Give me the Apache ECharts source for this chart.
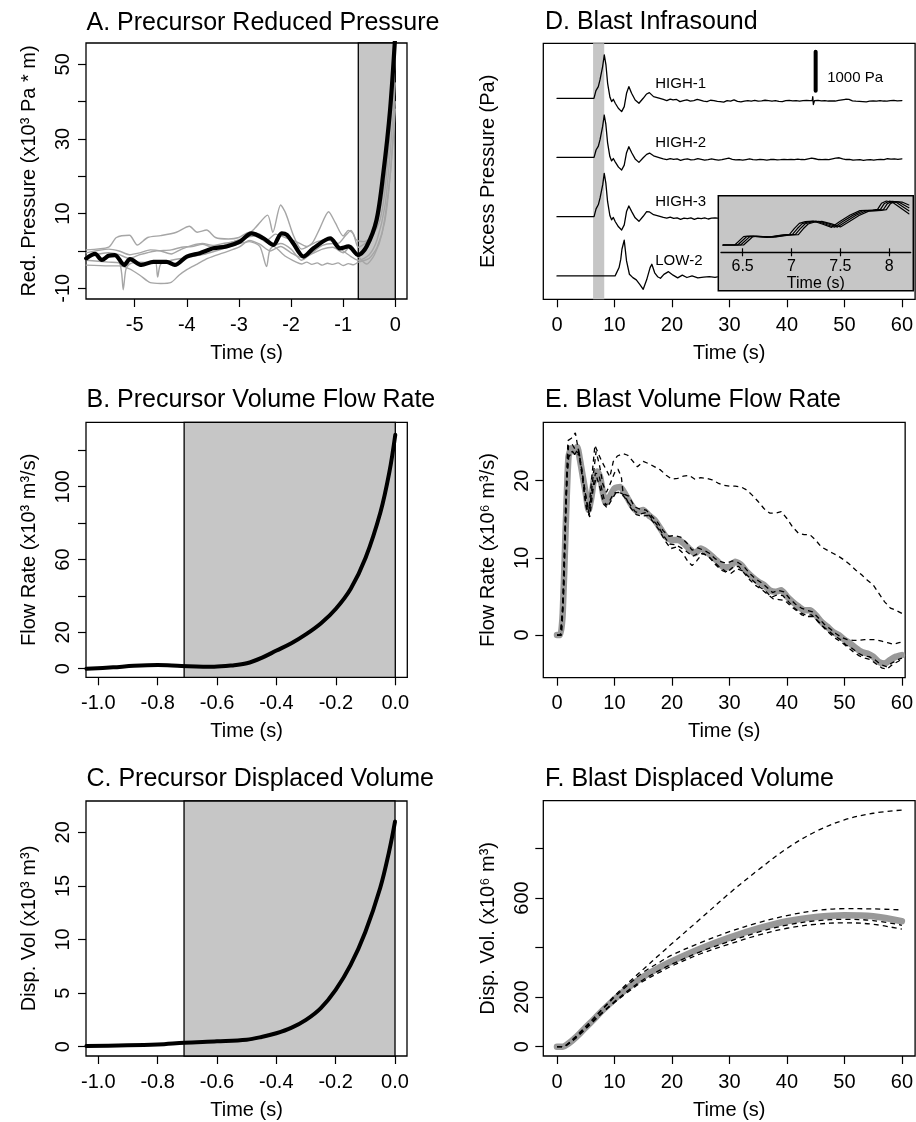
<!DOCTYPE html>
<html><head><meta charset="utf-8">
<script src="https://cdn.jsdelivr.net/npm/echarts@6/dist/echarts.min.js"></script>
<style>html,body{margin:0;padding:0;background:#fff}#c{width:916px;height:1122px}</style>
</head><body><div id="c"></div><script>
// ---------------- DATA ----------------
// Panel A: precursor reduced pressure (x10^3 Pa*m)
const aMean = [[-5.93,-2.0],[-5.76,-0.8],[-5.63,-2.4],[-5.5,-1.3],[-5.38,-1.1],[-5.2,-3.75],[-5.09,-2.2],[-4.87,-3.75],[-4.64,-2.9],[-4.39,-2.9],[-4.23,-3.75],[-4.0,-1.5],[-3.75,-0.6],[-3.49,0.7],[-3.24,1.2],[-2.98,2.5],[-2.76,4.7],[-2.53,3.4],[-2.34,1.6],[-2.18,4.7],[-2.08,4.3],[-1.96,2.1],[-1.76,-1.5],[-1.57,0.7],[-1.25,3.4],[-1.06,0.7],[-0.9,1.2],[-0.71,-1.1],[-0.55,1.2],[-0.36,8.3],[-0.23,20.8],[-0.1,37.8],[0,58]];
const aTrace1 = [[-5.93,0.3],[-5.5,1.0],[-5.35,3.6],[-5.1,4.2],[-4.95,1.6],[-4.75,3.6],[-4.5,4.1],[-4.2,5.0],[-3.95,6.6],[-3.8,5.0],[-3.62,5.6],[-3.45,3.6],[-3.2,3.2],[-3.0,3.6],[-2.8,5.0],[-2.6,4.5],[-2.45,3.0],[-2.3,4.5],[-2.1,3.5],[-1.9,2.5],[-1.7,1.2],[-1.5,2.5],[-1.3,3.0],[-1.1,2.0],[-0.95,4.2],[-0.85,5.5],[-0.75,3.0],[-0.6,2.5],[-0.45,4.0],[-0.3,8],[-0.2,16],[-0.1,32],[0,52]];
const aTrace2 = [[-5.93,-1.5],[-5.5,-0.5],[-5.3,-1.0],[-5.1,-2.0],[-4.9,-1.0],[-4.6,0.0],[-4.3,0.3],[-4.1,1.0],[-3.9,1.2],[-3.7,1.8],[-3.5,1.0],[-3.3,1.5],[-3.1,2.5],[-2.95,3.0],[-2.7,6.0],[-2.45,9.6],[-2.35,5.0],[-2.2,12.3],[-2.1,10],[-1.95,4.0],[-1.8,0.5],[-1.6,2.0],[-1.45,6.0],[-1.28,10.5],[-1.15,7.5],[-1.0,4.0],[-0.9,5.5],[-0.8,4.5],[-0.71,1.0],[-0.5,3.0],[-0.35,7.5],[-0.2,19],[-0.1,36],[0,55]];
const aTrace3 = [[-5.93,-2.5],[-5.5,-3.0],[-5.3,-3.2],[-5.25,-6],[-5.22,-10.4],[-5.17,-5],[-5.1,-3.5],[-4.9,-3.0],[-4.7,-3.2],[-4.6,-3.0],[-4.56,-7.0],[-4.5,-3.5],[-4.3,-2.5],[-4.0,-1.8],[-3.7,-1.0],[-3.4,0.2],[-3.1,1.5],[-2.8,2.5],[-2.6,1.2],[-2.47,-4.2],[-2.4,0.5],[-2.2,2.0],[-2.0,0.5],[-1.8,-2.5],[-1.6,-0.5],[-1.4,1.5],[-1.2,2.0],[-1.0,0.0],[-0.85,-1.5],[-0.71,-2.5],[-0.5,-1.0],[-0.35,3.0],[-0.2,12],[-0.1,26],[0,45]];
const aTrace4 = [[-5.93,-3.8],[-5.5,-4.0],[-5.3,-4.0],[-5.1,-4.8],[-4.9,-6.5],[-4.7,-8.5],[-4.5,-8.7],[-4.3,-8.4],[-4.15,-6.5],[-4.0,-5.0],[-3.8,-3.5],[-3.6,-2.0],[-3.3,-0.5],[-3.0,1.0],[-2.8,2.8],[-2.6,1.8],[-2.4,0.0],[-2.2,1.2],[-2.0,-0.5],[-1.8,-1.8],[-1.6,-0.8],[-1.4,0.5],[-1.2,1.0],[-1.0,-0.5],[-0.85,1.5],[-0.71,-1.5],[-0.55,-3.5],[-0.4,-1.0],[-0.25,5],[-0.1,20],[0,38]];
const aTrace5 = [[-5.93,-0.5],[-5.5,0.5],[-5.3,0.0],[-5.1,-1.0],[-4.9,-0.5],[-4.7,0.3],[-4.5,0.0],[-4.3,-0.8],[-4.1,0.5],[-3.9,1.5],[-3.7,2.0],[-3.5,1.5],[-3.3,2.0],[-3.1,2.5],[-2.9,3.5],[-2.7,4.0],[-2.5,2.5],[-2.3,1.0],[-2.1,-1.5],[-1.9,-3.0],[-1.8,-3.5],[-1.7,-3.0],[-1.6,-3.6],[-1.5,-3.2],[-1.4,-3.8],[-1.3,-3.3],[-1.2,-3.6],[-1.1,-3.2],[-1.0,-3.9],[-0.9,-3.4],[-0.8,-3.7],[-0.71,-3.0],[-0.5,-2.0],[-0.35,1.0],[-0.2,8],[-0.1,20],[0,40]];
const aShade = [-0.71, 0];
const aXTicks = [-5,-4,-3,-2,-1,0];
const aYTicks = [-10,0,10,20,30,40,50];
const aYLabels = [-10,10,30,50];

// Panel B: precursor volume flow rate (x10^3 m^3/s)
const bFlow = [[-1.04,0],[-0.95,0.8],[-0.88,1.6],[-0.8,2.0],[-0.72,1.5],[-0.61,1.1],[-0.55,1.8],[-0.5,3.0],[-0.45,6.0],[-0.4,10.0],[-0.35,14.0],[-0.3,19.0],[-0.25,25.0],[-0.2,33.0],[-0.15,44.0],[-0.1,61.0],[-0.05,86.0],[-0.02,108],[0,128.6]];
const bShade = [-0.711, 0];
const bcXTicks = [-1.0,-0.8,-0.6,-0.4,-0.2,0.0];
const bYTicks = [0,20,40,60,80,100,120];
const bYLabels = [0,20,60,100];

// Panel C: precursor displaced volume (x10^3 m^3)
const cVol = [[-1.04,0.06],[-0.8,0.2],[-0.71,0.37],[-0.6,0.5],[-0.5,0.65],[-0.45,0.9],[-0.4,1.25],[-0.35,1.75],[-0.3,2.5],[-0.25,3.6],[-0.2,5.3],[-0.15,7.6],[-0.1,10.7],[-0.05,14.8],[-0.02,18.2],[0,21.0]];
const cYTicks = [0,5,10,15,20];

// Panel D: blast infrasound (Pa), stacked traces
const dNames = ['HIGH-1','HIGH-2','HIGH-3','LOW-2'];
const dOffsets = [0,-1515,-3035,-4555];
const dHigh1 = [[0,0],[6.43,0],[6.78,197],[7.19,300],[7.48,470],[7.65,487],[7.94,812],[8.23,1111],[8.52,855],[8.81,385],[9.22,26],[9.51,-85],[9.8,-26],[10.14,-128],[10.67,-256],[11.25,-342],[11.7,-214],[12.1,128],[12.5,300],[12.98,128],[13.6,-43],[14.26,-128],[15.0,0],[15.6,111],[16.07,145],[16.8,43],[17.9,0],[18.5,-30],[19.1,-60],[19.7,-20],[20.2,-40],[20.8,-30],[21.4,-85],[22.0,-60],[22.6,-40],[23.2,-70],[23.8,-60],[24.4,-30],[24.9,-50],[25.5,-75],[26.1,-85],[26.7,-50],[27.3,-60],[27.9,-80],[28.4,-85],[29.0,-100],[29.6,-60],[30.2,-70],[30.8,-40],[31.4,-80],[32.0,-90],[32.6,-70],[33.2,-60],[33.8,-70],[34.4,-55],[35.0,-75],[35.6,-65],[36.2,-50],[36.8,-60],[37.4,-70],[38.0,-60],[38.6,-80],[39.2,-85],[39.8,-60],[40.4,-55],[41.0,-65],[41.6,-60],[42.2,-70],[42.8,-60],[43.4,-55],[44.0,-60],[44.4,-60],[44.5,40],[44.6,-160],[44.8,-60],[45.4,-55],[46.0,-65],[46.6,-60],[47.2,-70],[47.8,-65],[48.4,-70],[49.0,-55],[49.6,-40],[50.2,-25],[50.8,-30],[51.4,-65],[52.0,-75],[52.6,-80],[53.2,-85],[53.8,-90],[54.4,-75],[55.0,-70],[55.6,-75],[56.2,-60],[56.8,-70],[57.4,-75],[58.0,-60],[58.6,-55],[59.2,-65],[60,-60]];
const dHigh2 = [[0,0],[6.45,0],[6.8,190],[7.2,290],[7.5,460],[7.67,480],[7.95,800],[8.22,1086],[8.5,850],[8.8,380],[9.2,20],[9.5,-90],[9.8,-30],[10.15,-120],[10.7,-250],[11.25,-325],[11.7,-200],[12.1,120],[12.5,274],[13.0,120],[13.6,-40],[14.26,-128],[15.0,-10],[15.6,77],[16.1,110],[16.8,40],[17.9,-10],[18.5,-40],[19.1,-60],[19.7,-30],[20.3,-50],[20.9,-40],[21.5,-75],[22.1,-50],[22.7,-40],[23.3,-65],[23.9,-55],[24.5,-30],[25.1,-50],[25.7,-70],[26.3,-60],[26.9,-40],[27.5,-55],[28.1,-70],[28.7,-60],[29.3,-40],[29.9,-20],[30.5,-50],[31.1,-65],[31.7,-55],[32.3,-70],[32.9,-55],[33.5,-40],[34.1,-60],[34.7,-65],[35.3,-50],[35.9,-60],[36.5,-70],[37.1,-55],[37.7,-50],[38.3,-65],[38.9,-60],[39.5,-50],[40.1,-60],[40.7,-55],[41.3,-60],[41.9,-45],[42.5,-55],[43.1,-60],[43.7,-40],[44.3,-20],[44.9,-35],[45.5,-55],[46.1,-60],[46.7,-50],[47.3,-60],[47.9,-40],[48.5,-20],[49.1,-10],[49.7,-40],[50.3,-55],[50.9,-50],[51.5,-70],[52.1,-65],[52.7,-60],[53.3,-75],[53.9,-65],[54.5,-60],[55.1,-70],[55.7,-60],[56.3,-50],[56.9,-60],[57.5,-35],[58.1,-45],[58.7,-40],[59.3,-50],[60,-40]];
const dHigh3 = [[0,0],[6.45,0],[6.8,200],[7.2,310],[7.5,480],[7.68,495],[7.96,820],[8.22,1111],[8.5,860],[8.8,390],[9.2,30],[9.5,-80],[9.8,-20],[10.15,-130],[10.7,-260],[11.25,-342],[11.7,-210],[12.1,130],[12.5,274],[13.0,130],[13.6,-30],[14.26,-120],[15.0,10],[15.6,128],[16.1,120],[16.8,50],[17.9,10],[18.5,-20],[19.1,-40],[19.7,-10],[20.3,-45],[20.9,-30],[21.5,-70],[22.1,-40],[22.7,-50],[23.3,-30],[23.9,-70],[24.5,-40],[25.1,-50],[25.7,-30],[26.3,-60],[26.9,-40],[27.5,-30],[27.9,-40]];
const dLow2 = [[0,0],[10.1,0],[10.3,60],[10.8,214],[11.1,430],[11.3,684],[11.5,720],[11.7,915],[12.1,385],[12.6,43],[13.2,-43],[13.8,-100],[14.4,-214],[15.0,-342],[15.6,-100],[16.2,214],[16.5,300],[17.0,80],[17.5,-20],[18.0,-60],[18.6,40],[19.4,110],[20.2,20],[21.0,-50],[21.8,20],[22.6,-40],[23.5,0],[24.5,-50],[25.5,-30],[26.5,-15],[27.5,-35],[27.9,-25]];
const dShade = [6.28, 8.22];
const dScaleBar = [[45,195],[45,1195]];
const dScaleText = '1000 Pa';
const dXTicks = [0,10,20,30,40,50,60];

// Inset of panel D (first arrivals, 6.28 - 8.22 s)
const inset1 = [[6.30,0],[6.42,0],[6.51,192],[6.55,208],[6.75,178],[6.88,224],[6.98,247],[7.03,385],[7.08,501],[7.14,539],[7.22,554],[7.32,478],[7.41,408],[7.49,539],[7.60,693],[7.70,793],[7.83,808],[7.88,824],[7.92,963],[7.97,1016],[8.04,978],[8.20,720]];
const inset2 = [[6.30,0],[6.45,0],[6.54,190],[6.58,206],[6.78,180],[6.91,226],[7.01,245],[7.06,380],[7.11,495],[7.17,535],[7.25,552],[7.35,480],[7.44,410],[7.52,535],[7.63,690],[7.73,790],[7.86,805],[7.91,822],[7.95,960],[8.00,1012],[8.07,985],[8.20,790]];
const inset3 = [[6.30,0],[6.48,0],[6.57,188],[6.61,204],[6.81,182],[6.94,228],[7.04,243],[7.09,378],[7.14,490],[7.20,530],[7.28,548],[7.38,484],[7.47,414],[7.55,530],[7.66,686],[7.76,786],[7.89,802],[7.94,820],[7.98,956],[8.03,1008],[8.10,990],[8.20,860]];
const inset4 = [[6.30,0],[6.51,0],[6.60,186],[6.64,202],[6.84,184],[6.97,230],[7.07,240],[7.12,375],[7.17,486],[7.23,526],[7.31,545],[7.41,488],[7.50,418],[7.58,526],[7.69,682],[7.79,782],[7.92,800],[7.97,818],[8.01,952],[8.06,1004],[8.13,992],[8.20,925]];
const insetTicks = [6.5,7,7.5,8];

// Panel E: blast volume flow rate (x10^6 m^3/s)
const eMean = [[0,0],[0.6,0],[1,2.8],[1.5,13.6],[2,23.1],[2.5,24.2],[3,23.8],[3.5,24.4],[4,22.7],[4.5,20.5],[5,18.4],[5.5,16.2],[6,17.9],[6.5,20.5],[7,21.2],[7.5,20.5],[8,18.4],[8.5,17.1],[9,17.7],[10,19.0],[11,19.2],[12,18.1],[13,16.8],[14,16.0],[15,16.2],[16,15.5],[17,14.9],[18,13.8],[19,12.7],[20,12.3],[21,12.3],[22,11.9],[23,11.2],[24,10.6],[25,11.2],[26,10.8],[27,10.2],[28,9.5],[29,8.8],[30,8.8],[31,9.5],[32,9.1],[33,8.2],[34,7.5],[35,6.9],[36,6.5],[37,5.8],[38,5.6],[39,5.8],[40,5.0],[41,4.3],[42,3.7],[43,3.2],[44,3.2],[45,2.6],[46,1.7],[47,1.1],[48,0.4],[49,0],[50,-0.6],[51,-1.1],[52,-1.7],[53,-2.2],[54,-2.4],[55,-2.8],[56,-3.5],[57,-3.7],[58,-3.2],[59,-2.8],[60,-2.6]];
const eDash1 = [[0,0],[0.6,0],[1,4],[1.5,17],[1.9,25.2],[2.5,25.5],[3.2,26.2],[3.6,24.5],[4.2,22],[4.8,19],[5.5,15.8],[6.0,20],[6.6,24.6],[7.2,23.5],[7.8,22.5],[8.5,21.5],[9.2,20.5],[9.8,22.5],[10.5,23.2],[11.5,23.5],[12.3,23.3],[13,22.7],[14,21.8],[15,22.5],[16,22.2],[17,21.8],[18,21.4],[19,20.7],[20,20.2],[21,20.3],[22,20.6],[23,20.7],[24,20.2],[25,20.4],[26,20.3],[27,20.1],[28,19.7],[29,19.4],[30,19.3],[31,19.3],[32,19.2],[33,18.8],[34,18.1],[35,17.3],[36,16.4],[37,15.8],[38,15.8],[39,16],[40,15.1],[41,14],[42,13.2],[43,13],[44,13],[45,12.3],[46,11.4],[47,11],[48,10.6],[49,10.2],[50,9.7],[51,9.1],[52,8.4],[53,7.8],[54,7.1],[55,6.5],[56,5.4],[57,4.3],[58,3.5],[59,3.2],[60,2.8]];
const eDash2 = [[0,0],[0.7,0],[1.1,5],[1.6,18],[2,24.5],[2.6,24.8],[3.2,24],[3.8,23.5],[4.4,20.5],[5,17],[5.6,15.5],[6.2,20],[6.8,23.8],[7.4,22],[8,19.5],[8.6,18.5],[9.2,19.5],[10,21],[10.6,21.5],[11.2,20.5],[11.5,18.3],[12.5,18],[13.5,16.6],[14.5,16.3],[15.5,16.2],[16.5,15.4],[17.5,14.6],[18.5,13.5],[19.5,12.8],[20.5,12.9],[21.5,12.7],[22.5,12],[23.5,11],[24.5,11.3],[25.5,11],[26.5,10.6],[27.5,9.9],[28.5,9.5],[29.5,9.3],[30.5,9.6],[31.5,9.4],[32.5,8.9],[33.5,8],[34.5,7.3],[35.5,6.8],[36.5,6.2],[37.5,5.5],[38.5,5.8],[39.5,5.6],[40.5,4.7],[41.5,4.0],[42.5,3.5],[43.5,3.2],[44.5,3],[45.5,2.2],[46.5,1.4],[47.5,0.8],[48.5,0.2],[49.5,-0.3],[50.5,-0.6],[51.5,-0.7],[52.5,-0.7],[53.5,-0.6],[54.5,-0.6],[55.5,-0.6],[56.5,-0.8],[57.5,-1.0],[58.5,-1.2],[59.5,-1.0],[60,-0.9]];
const eDash3 = [[0,0],[0.8,0],[1.2,6],[1.7,20],[2.1,23.5],[2.7,23.8],[3.3,23.2],[3.9,23.5],[4.5,20],[5.1,16.5],[5.7,15.3],[6.3,19],[6.9,20.5],[7.5,19],[8.1,17],[8.7,16.5],[9.5,17.5],[10.3,18.5],[11.1,18.4],[11.8,18.1],[12.8,16.5],[13.8,15.6],[14.8,15.4],[15.8,15.5],[16.8,14.6],[17.8,13.6],[18.8,12.2],[19.8,11.2],[20.8,11.4],[21.8,10.7],[22.8,9.5],[23.5,9.0],[24.3,9.6],[25.3,10.6],[26.3,10.2],[27.3,9.5],[28.3,8.8],[29.3,8.3],[30.3,8.0],[31.3,8.6],[32.3,8.3],[33.3,7.6],[34.3,6.9],[35.3,6.2],[36.3,5.7],[37.3,4.9],[38.3,5.2],[39.3,5.1],[40.3,4.3],[41.3,3.5],[42.3,2.9],[43.3,2.6],[44.3,2.6],[45.3,1.9],[46.3,1.1],[47.3,0.5],[48.3,-0.1],[49.3,-0.6],[50.3,-1.3],[51.3,-1.7],[52.3,-2.3],[53.3,-2.7],[54.3,-2.8],[55.3,-3.2],[56.3,-3.8],[57.3,-4.1],[58.3,-3.6],[59.3,-3.2],[60,-3.0]];
const eDash4 = [[0,0],[0.6,0],[1.0,3],[1.5,15],[1.9,23],[2.5,23.5],[3.1,23.4],[3.7,24.2],[4.3,21.5],[4.9,18.5],[5.5,16],[6.1,18.5],[6.7,21],[7.3,20.8],[7.9,18.5],[8.5,16.8],[9.1,17.3],[9.9,18.4],[10.7,18.5],[11.6,18],[12.6,17],[13.6,16],[14.6,15.7],[15.6,15.9],[16.6,15],[17.6,14.1],[18.6,12.8],[19.6,11.8],[20.6,11.7],[21.6,11.3],[22.6,10.8],[23.6,10.2],[24.6,10.6],[25.6,10.5],[26.6,10],[27.6,9.1],[28.6,8.4],[29.6,8.1],[30.6,8.8],[31.6,8.9],[32.6,8],[33.6,7.1],[34.6,6.4],[35.6,5.9],[36.6,5.3],[37.6,4.7],[38.6,4.6],[39.6,4.5],[40.6,3.8],[41.6,3.2],[42.6,2.6],[43.6,2.4],[44.6,2.4],[45.6,1.6],[46.6,0.8],[47.6,0.1],[48.6,-0.5],[49.6,-1.0],[50.6,-1.6],[51.6,-2.2],[52.6,-2.7],[53.6,-3.0],[54.6,-3.2],[55.6,-3.8],[56.6,-4.3],[57.4,-4.4],[58.4,-3.8],[59.4,-3.4],[60,-3.1]];
const eYTicks = [0,10,20];

// Panel F: blast displaced volume (x10^6 m^3)
const fMean = [[0,0],[1,0],[2,13],[3,32],[4,54],[5,78],[6,101],[8,148],[10,191],[12,231],[15,282],[18,322],[20,345],[25,396],[30,440],[35,477],[40,506],[45,523],[50,530],[55,526],[60,506]];
const fDash1 = [[0,0],[1,0],[2,14],[3,35],[4,58],[5,82],[6,105],[8,155],[10,205],[12,250],[15,312],[18,375],[20,416],[25,517],[30,619],[35,713],[40,800],[45,868],[50,915],[55,942],[60,955]];
const fDash2 = [[0,0],[1,0],[2,13],[3,34],[4,57],[6,104],[8,152],[10,200],[12,242],[15,300],[18,343],[20,370],[25,420],[30,464],[35,500],[40,529],[45,549],[50,557],[55,556],[60,552]];
const fDash3 = [[0,0],[1,0],[2,12],[3,31],[4,52],[6,97],[8,141],[10,182],[12,220],[15,270],[18,310],[20,333],[25,384],[30,425],[35,462],[40,491],[45,508],[50,514],[55,509],[60,490]];
const fDash4 = [[0,0],[1,0],[2,11],[3,29],[4,50],[6,94],[8,138],[10,178],[12,215],[15,264],[18,302],[20,326],[25,375],[30,414],[35,450],[40,478],[45,494],[50,500],[55,494],[60,474]];
const fYTicks = [0,200,400,600,800];
const fYLabels = [0,200,600];

const titles = ['A. Precursor Reduced Pressure','B. Precursor Volume Flow Rate','C. Precursor Displaced Volume','D. Blast Infrasound','E. Blast Volume Flow Rate','F. Blast Displaced Volume'];
const yNames = ['Red. Pressure (x10\u00B3 Pa * m)','Flow Rate (x10\u00B3 m\u00B3/s)','Disp. Vol (x10\u00B3 m\u00B3)','Excess Pressure (Pa)','Flow Rate (x10\u2076 m\u00B3/s)','Disp. Vol. (x10\u2076 m\u00B3)'];
const xName = 'Time (s)';

// ---------------- CHART ----------------
const FONT = '"Liberation Sans", Arial, Helvetica, sans-serif';
const SHADE = '#c6c6c6';
const chart = echarts.init(document.getElementById('c'), null, {renderer:'canvas'});

const gridBox = (l,t,w,h) => ({left:l, top:t, width:w, height:h, show:true, borderColor:'#000', borderWidth:1.3, backgroundColor:'transparent'});
const grids = [
  gridBox(86,43,321,256),
  gridBox(86,422.3,321.3,255),
  gridBox(86,801,321,255),
  gridBox(543.3,43.3,372,256),
  gridBox(543.3,422.3,362,255.4),
  gridBox(543.3,800.7,372,255.3),
  {left:721, top:197, width:189.7, height:55.3, show:false}
];

function xAx(gi, min, max, ticks, fmt){
  return {type:'value', gridIndex:gi, min:min, max:max, position:'bottom',
    axisLine:{show:false, onZero:false}, splitLine:{show:false},
    axisTick:{show:true, length:8, customValues:ticks, lineStyle:{color:'#000', width:1.2}},
    axisLabel:{customValues:ticks, margin:16, fontSize:20, color:'#000', fontFamily:FONT, formatter:fmt},
    name:xName, nameLocation:'middle', nameGap:44, nameTextStyle:{fontSize:20, color:'#000', fontFamily:FONT}};
}
function yAx(gi, min, max, ticks, labels, name, margin){
  return {type:'value', gridIndex:gi, min:min, max:max, position:'left',
    axisLine:{show:false, onZero:false}, splitLine:{show:false},
    axisTick:{show:!!ticks, length:8, customValues:ticks||[], lineStyle:{color:'#000', width:1.2}},
    axisLabel:{show:!!labels, customValues:labels||[], rotate:90, margin:margin, fontSize:20, color:'#000', fontFamily:FONT},
    name:name, nameLocation:'middle', nameGap:margin+34, nameTextStyle:{fontSize:20, color:'#000', fontFamily:FONT}};
}
const f1 = v => v.toFixed(1);
const f0 = v => String(v);

const xAxes = [
  xAx(0,-5.934,0.2245,aXTicks,f0),
  xAx(1,-1.0414,0.0404,bcXTicks,f1),
  xAx(2,-1.0414,0.0404,bcXTicks,f1),
  xAx(3,-2.38,62.3,dXTicks,f0),
  xAx(4,-2.38,60.57,dXTicks,f0),
  xAx(5,-2.38,62.3,dXTicks,f0),
  {type:'value', gridIndex:6, min:6.279, max:8.219, position:'bottom', z:6,
    axisLine:{show:true, onZero:false, lineStyle:{color:'#000', width:1.3}}, splitLine:{show:false},
    axisTick:{show:true, length:4, customValues:insetTicks, lineStyle:{color:'#000', width:1.2}},
    axisLabel:{customValues:insetTicks, margin:6, fontSize:16, color:'#000', fontFamily:FONT, formatter:f0},
    name:xName, nameLocation:'middle', nameGap:21, nameTextStyle:{fontSize:16, color:'#000', fontFamily:FONT}},
  {type:'value', gridIndex:6, min:6.279, max:8.219, position:'bottom', offset:0, z:6,
    axisLine:{show:false, onZero:false}, splitLine:{show:false}, axisLabel:{show:false},
    axisTick:{show:true, inside:true, length:4, customValues:insetTicks, lineStyle:{color:'#000', width:1.2}}}
];
const yAxes = [
  yAx(0,-12.87,55.7,aYTicks,aYLabels,yNames[0],13),
  yAx(1,-4.7,135.4,bYTicks,bYLabels,yNames[1],13),
  yAx(2,-0.87,22.92,cYTicks,cYTicks,yNames[2],13),
  yAx(3,-5154,1410,null,null,yNames[3],11),
  yAx(4,-5.53,27.57,eYTicks,eYTicks,yNames[4],11),
  yAx(5,-37.5,992.6,fYTicks,fYLabels,yNames[5],11),
  {type:'value', gridIndex:6, min:-169, max:1109, show:false}
];

function line(xi, data, color, width, extra){
  return Object.assign({type:'line', xAxisIndex:xi, yAxisIndex:xi, data:data, showSymbol:false, symbol:'none',
    smooth:false, animation:false, silent:true, lineStyle:{color:color, width:width, join:'round', cap:'round'}}, extra||{});
}
function shadeArea(range){
  return {silent:true, itemStyle:{color:SHADE, borderColor:'#000', borderWidth:1.3}, data:[[{xAxis:range[0]},{xAxis:range[1]}]]};
}
const smoothC = {smooth:0.35};
const dashed = (xi, data, sm) => line(xi, data, '#000', 1.3, Object.assign({lineStyle:{color:'#000', width:1.3, type:[5,4]}, z:4}, sm||{}));
const offsetTrace = (data, off) => data.map(p => [p[0], p[1] + off]);

const series = [];
// A
series.push(line(0, [], '#000', 1, {markArea: shadeArea(aShade), z:1}));
[aTrace1,aTrace2,aTrace3,aTrace4,aTrace5].forEach(d => series.push(line(0, d, '#a6a6a6', 1.4, {z:3, smooth:0.25})));
series.push(line(0, aMean, '#000', 4.2, {z:4, smooth:0.3}));
// B
series.push(line(1, bFlow, '#000', 4, Object.assign({markArea: shadeArea(bShade), z:4}, smoothC)));
// C
series.push(line(2, cVol, '#000', 4, Object.assign({markArea: shadeArea(bShade), z:4}, smoothC)));
// D
series.push(line(3, [], '#000', 1, {markArea:{silent:true, itemStyle:{color:SHADE}, data:[[{xAxis:dShade[0]},{xAxis:dShade[1]}]]}, z:1}));
[dHigh1,dHigh2,dHigh3,dLow2].forEach((d,i) => {
  series.push(line(3, offsetTrace(d, dOffsets[i]), '#000', 1.3, {z:2,
    markPoint:{symbol:'circle', symbolSize:0, silent:true, animation:false,
      label:{show:true, position:'right', distance:0, formatter:dNames[i], fontSize:15, color:'#000', fontFamily:FONT},
      data:[{coord:[17.1, dOffsets[i] + 380]}]}}));
});
series.push(line(3, dScaleBar, '#000', 4, {z:2, lineStyle:{color:'#000', width:4, cap:'round'},
  markPoint:{symbol:'circle', symbolSize:0, silent:true, animation:false,
    label:{show:true, position:'right', distance:0, formatter:dScaleText, fontSize:15, color:'#000', fontFamily:FONT},
    data:[{coord:[47.0, 513]}]}}));
// Inset
[inset1,inset2,inset3,inset4].forEach(d => series.push(Object.assign(line(6, d, '#000', 1.2), {xAxisIndex:6, yAxisIndex:6, z:6})));
// E
series.push(line(4, eMean, '#999999', 6.5, {z:3, smooth:0.2}));
[eDash1,eDash2,eDash3,eDash4].forEach(d => series.push(dashed(4, d)));
// F
series.push(line(5, fMean, '#999999', 6.5, Object.assign({z:3}, smoothC)));
[fDash1,fDash2,fDash3,fDash4].forEach(d => series.push(dashed(5, d, smoothC)));

const titlePos = [[86.5,23],[86.5,400.5],[86.5,779.5],[545,22],[545,400.5],[545,779]];
const graphic = titles.map((t,i) => ({type:'text', x:titlePos[i][0], y:titlePos[i][1], silent:true,
  style:{text:t, fontSize:25, fontFamily:FONT, fill:'#000', align:'left', verticalAlign:'middle'}}));
graphic.push({type:'rect', z:3, silent:true, shape:{x:718.3, y:195.7, width:195, height:95},
  style:{fill:SHADE, stroke:'#000', lineWidth:1.5}});

chart.setOption({
  animation:false,
  backgroundColor:'#fff',
  textStyle:{fontFamily:FONT},
  grid:grids, xAxis:xAxes, yAxis:yAxes, series:series, graphic:graphic
});
</script></body></html>
